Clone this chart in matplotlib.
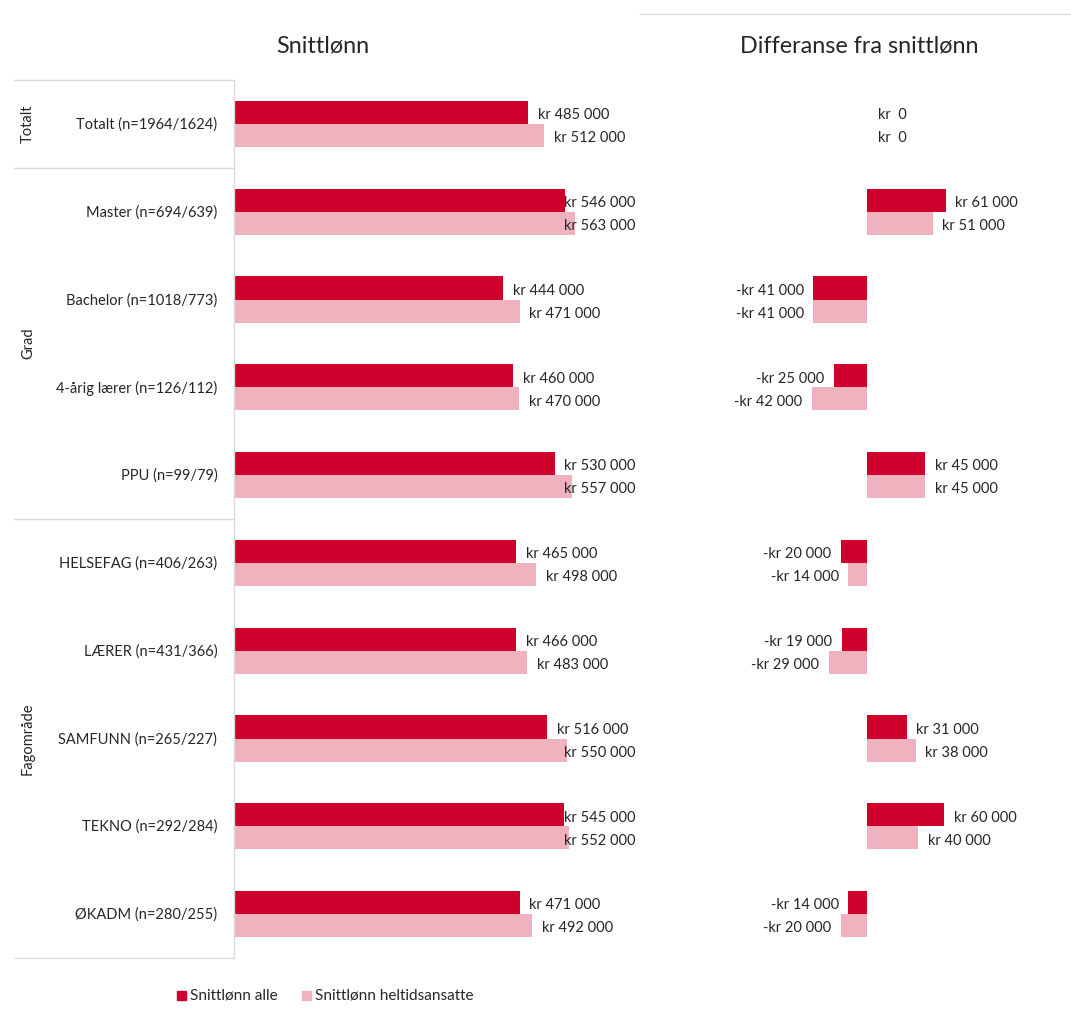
import matplotlib
matplotlib.use("Agg")
import matplotlib.pyplot as plt
from matplotlib.lines import Line2D
from matplotlib.patches import Rectangle
import numpy as np

plt.rcParams['font.family'] = ['Lato', 'DejaVu Sans']

categories = ["Totalt (n=1964/1624)", "Master (n=694/639)", "Bachelor (n=1018/773)",
              "4-årig lærer (n=126/112)", "PPU (n=99/79)", "HELSEFAG (n=406/263)",
              "LÆRER (n=431/366)", "SAMFUNN (n=265/227)", "TEKNO (n=292/284)",
              "ØKADM (n=280/255)"]
snitt_alle = [485000, 546000, 444000, 460000, 530000, 465000, 466000, 516000, 545000, 471000]
snitt_heltid = [512000, 563000, 471000, 470000, 557000, 498000, 483000, 550000, 552000, 492000]
diff_alle = [0, 61000, -41000, -25000, 45000, -20000, -19000, 31000, 60000, -14000]
diff_heltid = [0, 51000, -41000, -42000, 45000, -14000, -29000, 38000, 40000, -20000]
groups = [("Totalt", 0, 0), ("Grad", 1, 4), ("Fagområde", 5, 9)]
series_names = ["Snittlønn alle", "Snittlønn heltidsansatte"]

C1 = "#D0002D"
C2 = "#F0B2BE"
GRID = "#D9D9D9"
TXT = "#262626"

W, H = 1071, 1014
fig = plt.figure(figsize=(W / 100, H / 100), dpi=100)

def fx(px):
    return px / W

def fy(py):
    return 1 - py / H

top_px, bot_px = 80, 958
# left axes
lx0, lx1 = 234, 635
ax1 = fig.add_axes([fx(lx0), fy(bot_px), fx(lx1 - lx0), (bot_px - top_px) / H])
scale1 = 294 / 485000
ax1.set_xlim(0, (lx1 - lx0) / scale1)
# right axes
rx0, rx1 = 700, 1050
ax2 = fig.add_axes([fx(rx0), fy(bot_px), fx(rx1 - rx0), (bot_px - top_px) / H])
scale2 = 79 / 61000
zero2 = 866.5
ax2.set_xlim((rx0 - zero2) / scale2, (rx1 - zero2) / scale2)

n = len(categories)
y = np.arange(n)
bh = 0.262

def fmt(v):
    s = f"{abs(v):,}".replace(",", " ")
    if v == 0:
        return "kr  0"
    return ("-kr " if v < 0 else "kr ") + s

for ax in (ax1, ax2):
    ax.set_ylim(n - 0.5, -0.5)
    ax.axis('off')

ax1.barh(y - bh / 2, snitt_alle, height=bh, color=C1)
ax1.barh(y + bh / 2, snitt_heltid, height=bh, color=C2)
ax2.barh(y - bh / 2, diff_alle, height=bh, color=C1)
ax2.barh(y + bh / 2, diff_heltid, height=bh, color=C2)

fs = 10.5
dy = -2
texts1 = []
for i in range(n):
    for v, off in ((snitt_alle[i], -bh / 2), (snitt_heltid[i], bh / 2)):
        t = ax1.annotate(fmt(v), (v, i + off), xytext=(7, dy), textcoords='offset points',
                         ha='left', va='center', fontsize=fs, color=TXT)
        texts1.append(t)
    for v, off in ((diff_alle[i], -bh / 2), (diff_heltid[i], bh / 2)):
        if v > 0:
            ax2.annotate(fmt(v), (v, i + off), xytext=(7, dy), textcoords='offset points',
                         ha='left', va='center', fontsize=fs, color=TXT)
        elif v < 0:
            ax2.annotate(fmt(v), (v, i + off), xytext=(-7, dy), textcoords='offset points',
                         ha='right', va='center', fontsize=fs, color=TXT)
        else:
            ax2.annotate(fmt(v), (v, i + off), xytext=(8, dy), textcoords='offset points',
                         ha='left', va='center', fontsize=fs, color=TXT)

# clamp left labels inside plot area
fig.canvas.draw()
r = fig.canvas.get_renderer()
axright = ax1.get_window_extent(r).x1
for t in texts1:
    bb = t.get_window_extent(r)
    if bb.x1 > axright:
        shift = (bb.x1 - axright) * 72 / fig.dpi
        ox, oy = t.xyann
        t.xyann = (ox - shift, oy)

# category labels
for i, c in enumerate(categories):
    ax1.annotate(c, (0, i), xytext=(-12, -0.5), textcoords='offset points', ha='right',
                 va='center', fontsize=fs, color=TXT, annotation_clip=False)

def ydata_to_fig(yv):
    return fig.transFigure.inverted().transform(ax1.transData.transform((0, yv)))[1]

for name, a, b in groups:
    yc = (a + b) / 2
    fig.text(fx(28), ydata_to_fig(yc), name, rotation=90, ha='center', va='center',
             fontsize=fs, color=TXT)

for yb in [-0.5, 0.5, 4.5, 9.5]:
    yf = ydata_to_fig(yb)
    fig.add_artist(Line2D([fx(14), fx(234)], [yf, yf], color=GRID, lw=1))
fig.add_artist(Line2D([fx(234), fx(234)], [ydata_to_fig(-0.5), ydata_to_fig(9.5)], color=GRID, lw=1))
fig.add_artist(Line2D([fx(640), fx(1071)], [fy(14), fy(14)], color=GRID, lw=1))

# titles
fig.text(fx(323), fy(46), "Snittlønn", ha='center', va='center', fontsize=16.8, color=TXT)
fig.text(fx(859), fy(46), "Differanse fra snittlønn", ha='center', va='center', fontsize=16.8, color=TXT)

# legend
sq = 9
for xpx, col, name in ((177, C1, series_names[0]), (302, C2, series_names[1])):
    fig.add_artist(Rectangle((fx(xpx), fy(995) - (sq / 2) / H), sq / W, sq / H, color=col,
                             transform=fig.transFigure))
    fig.text(fx(xpx + 13), fy(995.5), name, ha='left', va='center', fontsize=11, color=TXT)

fig.savefig("out.png", dpi=100, facecolor='white')
